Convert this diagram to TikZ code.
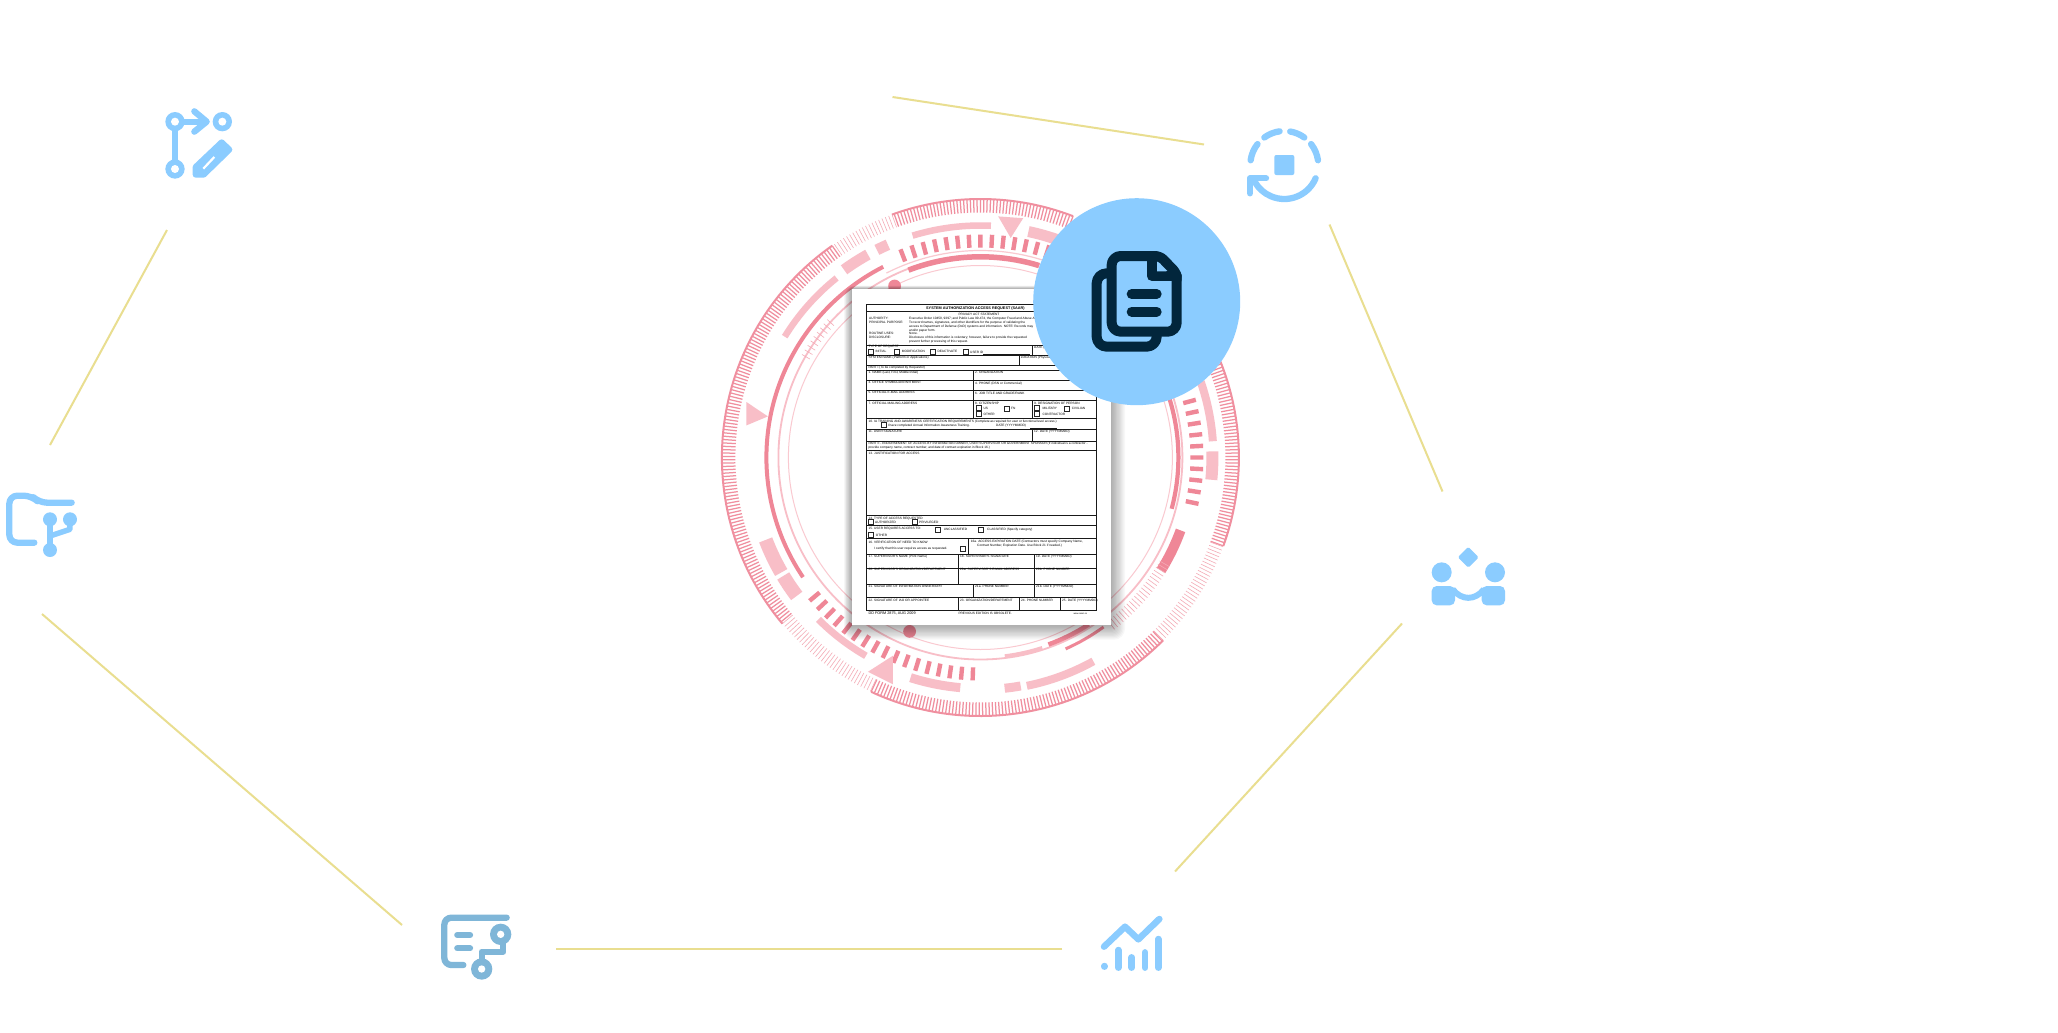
\documentclass[tikz,border=0pt]{standalone}
\usepackage{fontspec}
\setmainfont{Liberation Sans}
\definecolor{pk}{HTML}{EF8797}
\definecolor{pkt}{HTML}{F08F9F}
\definecolor{pkl}{HTML}{F8BEC7}
\definecolor{pkp}{HTML}{FAC9D0}
\definecolor{sky}{HTML}{8BCCFF}
\definecolor{skyd}{HTML}{7FB6D8}
\definecolor{navy}{HTML}{02263C}
\definecolor{gold}{HTML}{E9DE90}
\newcounter{tn}
\tikzset{
  ftx/.style={anchor=base west,inner sep=0pt,text=black,font=\fontsize{3.2}{3.5}\selectfont},
  ftb/.style={ftx,font=\fontsize{3.8}{4}\selectfont\bfseries},
  ftf/.style={ftx,font=\fontsize{3.8}{4}\selectfont},
  fts/.style={ftx,font=\fontsize{2.3}{3}\selectfont},
  rule/.style={draw=black!90,line width=.9pt},
  boxst/.style={draw=black!85,line width=.95pt},
  link/.style={draw=gold,line width=2pt},
  tickd/.style={draw=pkt,line width=1.25pt},
  ticks/.style={draw=pk!70,line width=.6pt},
  icon/.style={draw=sky,line width=6.3pt,line cap=round,line join=round},
  iconb/.style={draw=skyd,line width=6.3pt,line cap=round,line join=round},
  dk/.style={draw=navy,line width=10pt,line cap=round,line join=round}
}
\newcommand\fmtxt[4][ftx]{\stepcounter{tn}\node[#1] (t\arabic{tn}) at (#2,#3) {#4};}
\newcommand\cbox[2]{\draw[boxst] (#1,#2) ++(-7.5,-7.5) rectangle ++(15,15);}
\newcommand\myarc[5]{\draw[#1,line width=#5] (#3:#2) arc[start angle=#3,end angle=#4,radius=#2];}
\begin{document}
\begin{tikzpicture}[x=1pt,y=-1pt]
\useasboundingbox (0,0) rectangle (2058,1033);
\fill[white] (0,0) rectangle (2058,1033);

% connectors
\coordinate (a1) at (892.5,97);   \coordinate (b1) at (1204,144.5);
\coordinate (a2) at (1329.5,224.5); \coordinate (b2) at (1442.5,491.5);
\coordinate (a3) at (1402,623.5); \coordinate (b3) at (1175,871.5);
\coordinate (a4) at (1062,949);   \coordinate (b4) at (556,949);
\coordinate (a5) at (402,925);    \coordinate (b5) at (42,614);
\coordinate (a6) at (50,445);     \coordinate (b6) at (167,230);
\draw[link] (a1)--(b1); \draw[link] (a2)--(b2); \draw[link] (a3)--(b3);
\draw[link] (a4)--(b4); \draw[link] (a5)--(b5); \draw[link] (a6)--(b6);

% rings
\begin{scope}[shift={(980.4,457.5)},y=1pt]
  % outer tick bands
  \draw[tickd] \foreach \a in {125,125.75,...,220} {(\a:245)--(\a:258.5)};
  \draw[tickd] \foreach \a in {69,69.75,...,110} {(\a:245)--(\a:258.5)};
  \draw[tickd] \foreach \a in {245,245.75,...,315} {(\a:245)--(\a:258.5)};
  \draw[tickd] \foreach \a in {-20,-19.25,...,22} {(\a:245)--(\a:258.5)};
  \draw[ticks] \foreach \a in {110,110.8,...,125} {(\a:245)--(\a:258.5)};
  \draw[ticks] \foreach \a in {220,220.8,...,245} {(\a:245)--(\a:258.5)};
  \draw[ticks] \foreach \a in {315,315.8,...,340} {(\a:245)--(\a:258.5)};
  \myarc{pkt}{258.5}{125}{220}{2}
  \myarc{pkt}{258.5}{69}{110}{2}
  \myarc{pkt}{258.5}{245}{315}{2}
  \myarc{pkt}{258.5}{-20}{22}{2}
  % light segments
  \myarc{pkl}{230}{148.3}{128.7}{6.5}
  \myarc{pkl}{232}{126}{119}{11}
  \myarc{pkl}{232}{116.5}{113.5}{11}
  \myarc{pkl}{232}{107}{87.4}{6.5}
  \myarc{pkl}{231}{78}{66}{11}
  \myarc{pkl}{233}{19}{4}{8}
  \myarc{pkl}{232}{1.5}{-5.5}{12}
  \myarc{pkl}{233}{-61}{-78.5}{8}
  \myarc{pkl}{232}{-80}{-84}{9}
  \myarc{pkl}{231}{265}{252.4}{9}
  \myarc{pkl}{229}{240}{225}{7}
  \myarc{pkl}{230}{211}{217}{14}
  \myarc{pkl}{230}{201}{210}{14}
  % thin rings
  \draw[pkl,line width=1.8pt] (0,0) circle[radius=202];
  \draw[pkp,line width=1pt] (0,0) circle[radius=192];
  \myarc{pkp}{207}{117}{72}{1.2}
  % dashed ring
  \draw[pk,line width=4.4pt] \foreach \a in {72,75,...,111} {(\a:210)--(\a:223)};
  \draw[pk,line width=4.4pt] \foreach \a in {220,223,...,269} {(\a:210)--(\a:223)};
  \draw[pk,line width=4.4pt] \foreach \a in {-12,-9,...,16} {(\a:210)--(\a:223)};
  % main arcs
  \myarc{pk}{214}{117}{214}{4}
  \myarc{pk}{200.7}{111}{73}{5.5}
  \myarc{pk}{198}{17}{-15}{4.2}
  \myarc{pk}{213}{-32}{-20}{10}
  \myarc{pk}{199}{-70}{-57}{4.5}
  \myarc{pk}{209.5}{-66}{-54}{3}
  \myarc{pkl}{200}{-83}{-72}{3.5}
  \draw[ticks] \foreach \a in {-52,-51,...,-30} {(\a:207)--(\a:218)};
  \draw[ticks] \foreach \a in {138,139.5,...,150} {(\a:197)--(\a:206)};
\end{scope}
\fill[pk] (894.6,286) circle[radius=6.4];
\fill[pk] (909.6,631.4) circle[radius=6.4];
\fill[pkl] (746.4,402)--(767.9,416.4)--(746.4,425.4)--cycle;
\fill[pkl] (998.2,216.4)--(1023.2,218.2)--(1010.7,237.9)--cycle;
\fill[pkl] (867.9,671.8)--(892.9,655.7)--(892.9,684.3)--cycle;

% paper shadow and paper
\foreach \i in {1,...,11}
  \fill[black,opacity=.032,rounded corners=\i pt] (851.8-.7*\i,289-.3*\i) rectangle (1110.7+1.3*\i,625.4+1.3*\i);
\fill[white] (851.8,289) rectangle (1110.7,625.4);

% form, upper part, in crop coordinates
\begin{scope}[shift={(850,285)},x=.33333pt,y=-.33333pt]
  \draw[rule] (50,57) rectangle (738,495);
  \foreach \y in {78,180,212,240,255,285,315,345,400,433,468}
    \draw[rule] (50,\y)--(738,\y);
  \draw[rule] (548,180)--(548,212);
  \draw[rule] (508,212)--(508,240);
  \draw[rule] (370,255)--(370,400);
  \draw[rule] (548,345)--(548,400);
  \draw[rule] (548,433)--(548,468);
  \draw[rule] (400,208)--(540,208);
  \draw[rule] (540,429)--(620,429);
  \fmtxt[ftb]{228}{72}{SYSTEM AUTHORIZATION ACCESS REQUEST (SAAR)}
  \fmtxt{325}{91}{PRIVACY ACT STATEMENT}
  \fmtxt{57}{104}{AUTHORITY:}
  \fmtxt{57}{116}{PRINCIPAL PURPOSE:}
  \fmtxt{57}{149}{ROUTINE USES:}
  \fmtxt{57}{161}{DISCLOSURE:}
  \fmtxt{177}{104}{Executive Order 10450, 9397; and Public Law 99-474, the Computer Fraud and Abuse Act.}
  \fmtxt{177}{116}{To record names, signatures, and other identifiers for the purpose of validating the}
  \fmtxt{177}{127}{access to Department of Defense (DoD) systems and information. NOTE: Records may}
  \fmtxt{177}{138}{and/or paper form.}
  \fmtxt{177}{149}{None.}
  \fmtxt{177}{161}{Disclosure of this information is voluntary; however, failure to provide the requested}
  \fmtxt{177}{172}{prevent further processing of this request.}
  \fmtxt{55}{188}{TYPE OF REQUEST}
  \cbox{64}{200}\fmtxt{76}{203}{INITIAL}
  \cbox{141}{200}\fmtxt{155}{203}{MODIFICATION}
  \cbox{250}{200}\fmtxt{262}{203}{DEACTIVATE}
  \cbox{347}{200}\fmtxt{360}{206}{USER ID}
  \fmtxt{552}{190}{DATE (YYYYMMDD)}
  \fmtxt{55}{220}{SYSTEM NAME (Platform or Applications)}
  \fmtxt{512}{220}{LOCATION (Physical Location of System)}
  \fmtxt{55}{251}{PART I (To be completed by Requestor)}
  \fmtxt{55}{266}{1. NAME (Last, First, Middle Initial)}
  \fmtxt{375}{266}{2. ORGANIZATION}
  \fmtxt{55}{296}{3. OFFICE SYMBOL/DEPARTMENT}
  \fmtxt{375}{297}{4. PHONE (DSN or Commercial)}
  \fmtxt{55}{326}{5. OFFICIAL E-MAIL ADDRESS}
  \fmtxt{375}{327}{6. JOB TITLE AND GRADE/RANK}
  \fmtxt{55}{357}{7. OFFICIAL MAILING ADDRESS}
  \fmtxt{375}{357}{8. CITIZENSHIP}
  \fmtxt{552}{357}{9. DESIGNATION OF PERSON}
  \cbox{386}{370}\fmtxt{400}{374}{US}
  \cbox{470}{371}\fmtxt{483}{374}{FN}
  \cbox{386}{388}\fmtxt{400}{392}{OTHER}
  \cbox{562}{370}\fmtxt{577}{374}{MILITARY}
  \cbox{652}{371}\fmtxt{665}{374}{CIVILIAN}
  \cbox{562}{388}\fmtxt{577}{392}{CONTRACTOR}
  \fmtxt{55}{411}{10. IA TRAINING AND AWARENESS CERTIFICATION REQUIREMENTS (Complete as required for user or functional level access.)}
  \cbox{102}{421}\fmtxt{113}{425}{I have completed Annual Information Awareness Training.}
  \fmtxt{438}{425}{DATE (YYYYMMDD)}
  \fmtxt{55}{443}{11. USER SIGNATURE}
  \fmtxt{552}{443}{12. DATE (YYYYMMDD)}
  \fmtxt{55}{479}{PART II - ENDORSEMENT OF ACCESS BY INFORMATION OWNER, USER SUPERVISOR OR GOVERNMENT SPONSOR (If individual is a contractor -}
  \fmtxt{55}{491}{provide company name, contract number, and date of contract expiration in Block 16.)}
\end{scope}

% form, lower part, in crop coordinates
\begin{scope}[shift={(850,450)},x=.33333pt,y=-.33333pt]
  \draw[rule] (50,0) rectangle (738,480);
  \foreach \y in {197,227,265,312,355,403,441}
    \draw[rule] (50,\y)--(738,\y);
  \draw[rule] (355,265)--(355,312);
  \draw[rule] (325,312)--(325,403);
  \draw[rule] (553,312)--(553,441);
  \draw[rule] (370,403)--(370,441);
  \draw[rule] (325,441)--(325,480);
  \draw[rule] (508,441)--(508,480);
  \draw[rule] (632,441)--(632,480);
  \draw[rule] (118,264)--(555,264);
  \fmtxt{55}{13}{13. JUSTIFICATION FOR ACCESS}
  \fmtxt{55}{207}{14. TYPE OF ACCESS REQUESTED}
  \cbox{64}{217}\fmtxt{75}{220}{AUTHORIZED}
  \cbox{195}{217}\fmtxt{207}{220}{PRIVILEGED}
  \fmtxt{55}{238}{15. USER REQUIRES ACCESS TO:}
  \cbox{263}{239}\fmtxt{281}{242}{UNCLASSIFIED}
  \cbox{393}{239}\fmtxt{411}{242}{CLASSIFIED (Specify category)}
  \cbox{64}{256}\fmtxt{77}{259}{OTHER}
  \fmtxt{55}{279}{16. VERIFICATION OF NEED TO KNOW}
  \fmtxt{72}{298}{I certify that this user requires access as requested.}
  \cbox{340}{297}
  \fmtxt{362}{276}{16a. ACCESS EXPIRATION DATE (Contractors must specify Company Name,}
  \fmtxt{381}{289}{Contract Number, Expiration Date. Use Block 21 if needed.)}
  \fmtxt{55}{322}{17. SUPERVISOR'S NAME (Print Name)}
  \fmtxt{330}{322}{18. SUPERVISOR'S SIGNATURE}
  \fmtxt{558}{322}{19. DATE (YYYYMMDD)}
  \fmtxt{55}{362}{20. SUPERVISOR'S ORGANIZATION/DEPARTMENT}
  \fmtxt{330}{362}{20a. SUPERVISOR'S E-MAIL ADDRESS}
  \fmtxt{558}{362}{20b. PHONE NUMBER}
  \fmtxt{55}{413}{21. SIGNATURE OF INFORMATION OWNER/OPR}
  \fmtxt{375}{413}{21a. PHONE NUMBER}
  \fmtxt{558}{413}{21b. DATE (YYYYMMDD)}
  \fmtxt{55}{453}{22. SIGNATURE OF IAO OR APPOINTEE}
  \fmtxt{330}{453}{23. ORGANIZATION/DEPARTMENT}
  \fmtxt{513}{453}{24. PHONE NUMBER}
  \fmtxt{636}{453}{25. DATE (YYYYMMDD)}
  \fmtxt[ftf]{55}{493}{DD FORM 2875, AUG 2009}
  \fmtxt{325}{492}{PREVIOUS EDITION IS OBSOLETE.}
  \fmtxt[fts]{670}{492}{www.reset.co}
\end{scope}

% big circle with document icon
\fill[sky] (1136.7,301.7) circle[radius=103.5];
\begin{scope}[shift={(1020,190)},x=.33333pt,y=-.33333pt]
  \draw[dk,rounded corners=10pt] (262,250)--(230,250)--(230,470)--(410,470)--(410,432);
  \draw[dk,rounded corners=9pt] (395,198)--(275,198)--(275,425)--(470,425)--(470,255);
  \draw[dk,rounded corners=5pt] (395,198)--(420,198)--(470,250)--(470,270);
  \draw[dk] (395,198)--(395,258)--(470,258);
  \draw[dk] (335,312)--(410,312);
  \draw[dk] (335,365)--(410,365);
  \fill[sky] (411,216)--(411,244)--(439,244)--cycle;
\end{scope}

% icon top left
\begin{scope}[shift={(150,90)},x=.33333pt,y=-.33333pt]
  \draw[icon] (75,95)--(75,237);
  \draw[icon] (75,95)--(168,95);
  \draw[icon] (133,64)--(170,95)--(133,125);
  \fill[sky] (75,95) circle[radius=29] (217,95) circle[radius=29] (75,237) circle[radius=29];
  \fill[white] (75,95) circle[radius=12] (217,95) circle[radius=12] (75,237) circle[radius=12];
  \fill[sky,draw=sky,line width=6pt,line join=round] (215,157)--(238,179)--(161,254)--(137,254)--(137,231)--cycle;
  \draw[white,line width=2.2pt] (160,236)--(193,201);
\end{scope}

% icon top right
\begin{scope}[shift={(1284.3,165)},y=1pt]
  \myarc{icon}{34}{126}{98}{6.3}
  \myarc{icon}{34}{80}{54}{6.3}
  \myarc{icon}{34}{142}{172}{6.3}
  \myarc{icon}{34}{38}{8}{6.3}
  \myarc{icon}{34}{-23}{-150}{6.3}
  \fill[sky,rounded corners=2pt] (-10,-10) rectangle (10,10);
\end{scope}
\begin{scope}[shift={(1230,110)},x=.33333pt,y=-.33333pt]
  \draw[icon] (60,250)--(60,205)--(108,205);
\end{scope}

% icon right
\begin{scope}[shift={(1410,530)},x=.33333pt,y=-.33333pt]
  \fill[sky,draw=sky,line width=3pt,line join=round] (175,57)--(200,82)--(175,107)--(150,82)--cycle;
  \fill[sky] (95,127) circle[radius=30] (255,127) circle[radius=30];
  \fill[sky,rounded corners=5pt] (65,168) rectangle (135,226);
  \fill[sky,rounded corners=5pt] (215,168) rectangle (285,226);
  \draw[sky,line width=6pt] (128,178) .. controls (155,212) and (195,212) .. (222,178);
\end{scope}

% icon left
\begin{scope}[shift={(0,480)},x=.33333pt,y=-.33333pt]
  \draw[icon,rounded corners=8pt] (103,188)--(28,188)--(28,47)--(95,47)--(117,68)--(215,68);
  \draw[icon,line width=5.5pt] (150,118)--(150,210);
  \draw[icon,line width=5.5pt] (210,118)--(210,148)--(150,168);
  \fill[sky] (150,118) circle[radius=21] (210,118) circle[radius=21] (150,210) circle[radius=21];
\end{scope}

% icon bottom left
\begin{scope}[shift={(430,900)},x=.33333pt,y=-.33333pt]
  \draw[iconb,rounded corners=7pt] (230,53)--(43,53)--(43,195)--(100,195);
  \draw[iconb] (82,105)--(120,105);
  \draw[iconb] (82,145)--(120,145);
  \draw[iconb,line cap=butt] (220,130)--(220,155)--(155,155)--(155,180);
  \fill[skyd] (212,103) circle[radius=32] (155,207) circle[radius=32];
  \fill[white] (212,103) circle[radius=11] (155,207) circle[radius=11];
\end{scope}

% icon bottom right
\begin{scope}[shift={(1090,900)},x=.33333pt,y=-.33333pt]
  \draw[icon,line width=6.5pt] (42,140)--(105,80)--(145,118)--(208,57);
  \draw[icon,line width=6.5pt] (43,198)--(43,200);
  \draw[icon,line width=6.5pt] (85,150)--(85,203);
  \draw[icon,line width=6.5pt] (125,172)--(125,203);
  \draw[icon,line width=6.5pt] (165,157)--(165,203);
  \draw[icon,line width=6.5pt] (205,117)--(205,203);
\end{scope}
\end{tikzpicture}
\end{document}
